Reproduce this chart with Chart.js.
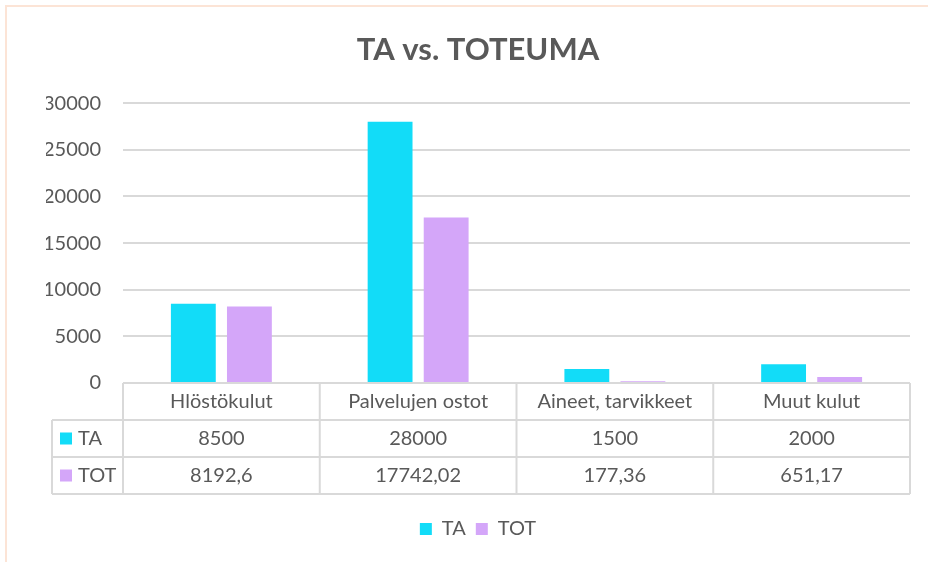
<!DOCTYPE html>
<html>
<head>
<meta charset="utf-8">
<script src="https://cdn.jsdelivr.net/npm/chart.js@4.4.1/dist/chart.umd.min.js"></script>
<style>
  html, body { margin: 0; padding: 0; background: #fff; }
  #wrap { position: relative; width: 928px; height: 562px; overflow: hidden; }
  #frame { position: absolute; left: 5px; top: 5px; width: 940px; height: 580px; border: 2px solid #fce4d6; }
  canvas { position: absolute; left: 0; top: 0; }
</style>
</head>
<body>
<div id="wrap">
  <div id="frame"></div>
  <canvas id="chart" width="928" height="562"></canvas>
</div>
<script>
// --- Data ---
const categories = ['Hlöstökulut', 'Palvelujen ostot', 'Aineet, tarvikkeet', 'Muut kulut'];
const seriesNames = ['TA', 'TOT'];
const taValues = [8500, 28000, 1500, 2000];
const totValues = [8192.6, 17742.02, 177.36, 651.17];

// --- Styles ---
const TEXT = '#595959';
const GRID = '#d9d9d9';
const colors = ['#12dcf8', '#d4a6f9'];
const FONT = 'Lato, "Open Sans", sans-serif';

// Finnish number format: comma as decimal separator
const fmt = (v) => String(v).replace('.', ',');

// --- Data table under the plot (Excel style) ---
const dataTable = {
    id: 'dataTable',
    afterDraw(chart) {
        const ctx = chart.ctx;
        const xs = chart.scales.x;
        const top = chart.chartArea.bottom;
        const colW = (xs.right - xs.left) / categories.length;
        const rowH = 37;
        const keyLeft = 52;
        const rows = [taValues, totValues];

        ctx.save();
        ctx.strokeStyle = GRID;
        ctx.lineWidth = 2;
        ctx.beginPath();
        // horizontal lines
        ctx.moveTo(xs.left, top); ctx.lineTo(xs.right, top);
        for (let r = 1; r <= rows.length + 1; r++) {
            ctx.moveTo(keyLeft, top + r * rowH);
            ctx.lineTo(xs.right, top + r * rowH);
        }
        // vertical lines
        ctx.moveTo(keyLeft, top + rowH);
        ctx.lineTo(keyLeft, top + (rows.length + 1) * rowH);
        for (let c = 0; c <= categories.length; c++) {
            const x = xs.left + c * colW;
            ctx.moveTo(x, top);
            ctx.lineTo(x, top + (rows.length + 1) * rowH);
        }
        ctx.stroke();

        ctx.font = '20px ' + FONT;
        ctx.fillStyle = TEXT;
        ctx.textAlign = 'center';
        ctx.textBaseline = 'middle';
        categories.forEach((cat, i) => {
            ctx.fillText(cat, xs.getPixelForValue(i), top + rowH / 2);
        });
        rows.forEach((vals, r) => {
            const cy = top + (r + 1.5) * rowH;
            vals.forEach((v, i) => {
                ctx.fillText(fmt(v), xs.getPixelForValue(i), cy);
            });
            // legend key
            ctx.fillStyle = colors[r];
            ctx.fillRect(keyLeft + 8, cy - 6, 12, 12);
            ctx.fillStyle = TEXT;
            ctx.textAlign = 'left';
            ctx.fillText(seriesNames[r], keyLeft + 26, cy);
            ctx.textAlign = 'center';
        });
        ctx.restore();
    }
};

const ctx = document.getElementById('chart').getContext('2d');
const chart = new Chart(ctx, {
    type: 'bar',
    data: {
        labels: categories,
        datasets: [
            { label: seriesNames[0], data: taValues, backgroundColor: colors[0] },
            { label: seriesNames[1], data: totValues, backgroundColor: colors[1] }
        ]
    },
    options: {
        responsive: false,
        animation: false,
        categoryPercentage: 0.57,
        barPercentage: 0.8,
        layout: { padding: { left: 46, right: 18, top: 0, bottom: 13 } },
        scales: {
            x: {
                ticks: { display: false },
                grid: { display: false, drawTicks: false },
                border: { display: false },
                afterFit(axis) { axis.height = 126; }
            },
            y: {
                min: 0,
                max: 30000,
                ticks: {
                    stepSize: 5000,
                    color: TEXT,
                    padding: 22,
                    font: { size: 20, family: FONT },
                    callback: (v) => String(v)
                },
                grid: { color: GRID, lineWidth: 2, drawTicks: false },
                border: { display: false },
                afterFit(axis) { axis.width = 77; }
            }
        },
        plugins: {
            title: {
                display: true,
                text: 'TA vs. TOTEUMA',
                color: TEXT,
                font: { size: 31, weight: 'bold', family: FONT, lineHeight: 1.2 },
                padding: { top: 31, bottom: 35 }
            },
            legend: {
                position: 'bottom',
                labels: {
                    color: TEXT,
                    boxWidth: 12,
                    boxHeight: 12,
                    padding: 10,
                    font: { size: 20, family: FONT }
                }
            },
            tooltip: { enabled: false }
        }
    },
    plugins: [dataTable]
});
</script>
</body>
</html>
